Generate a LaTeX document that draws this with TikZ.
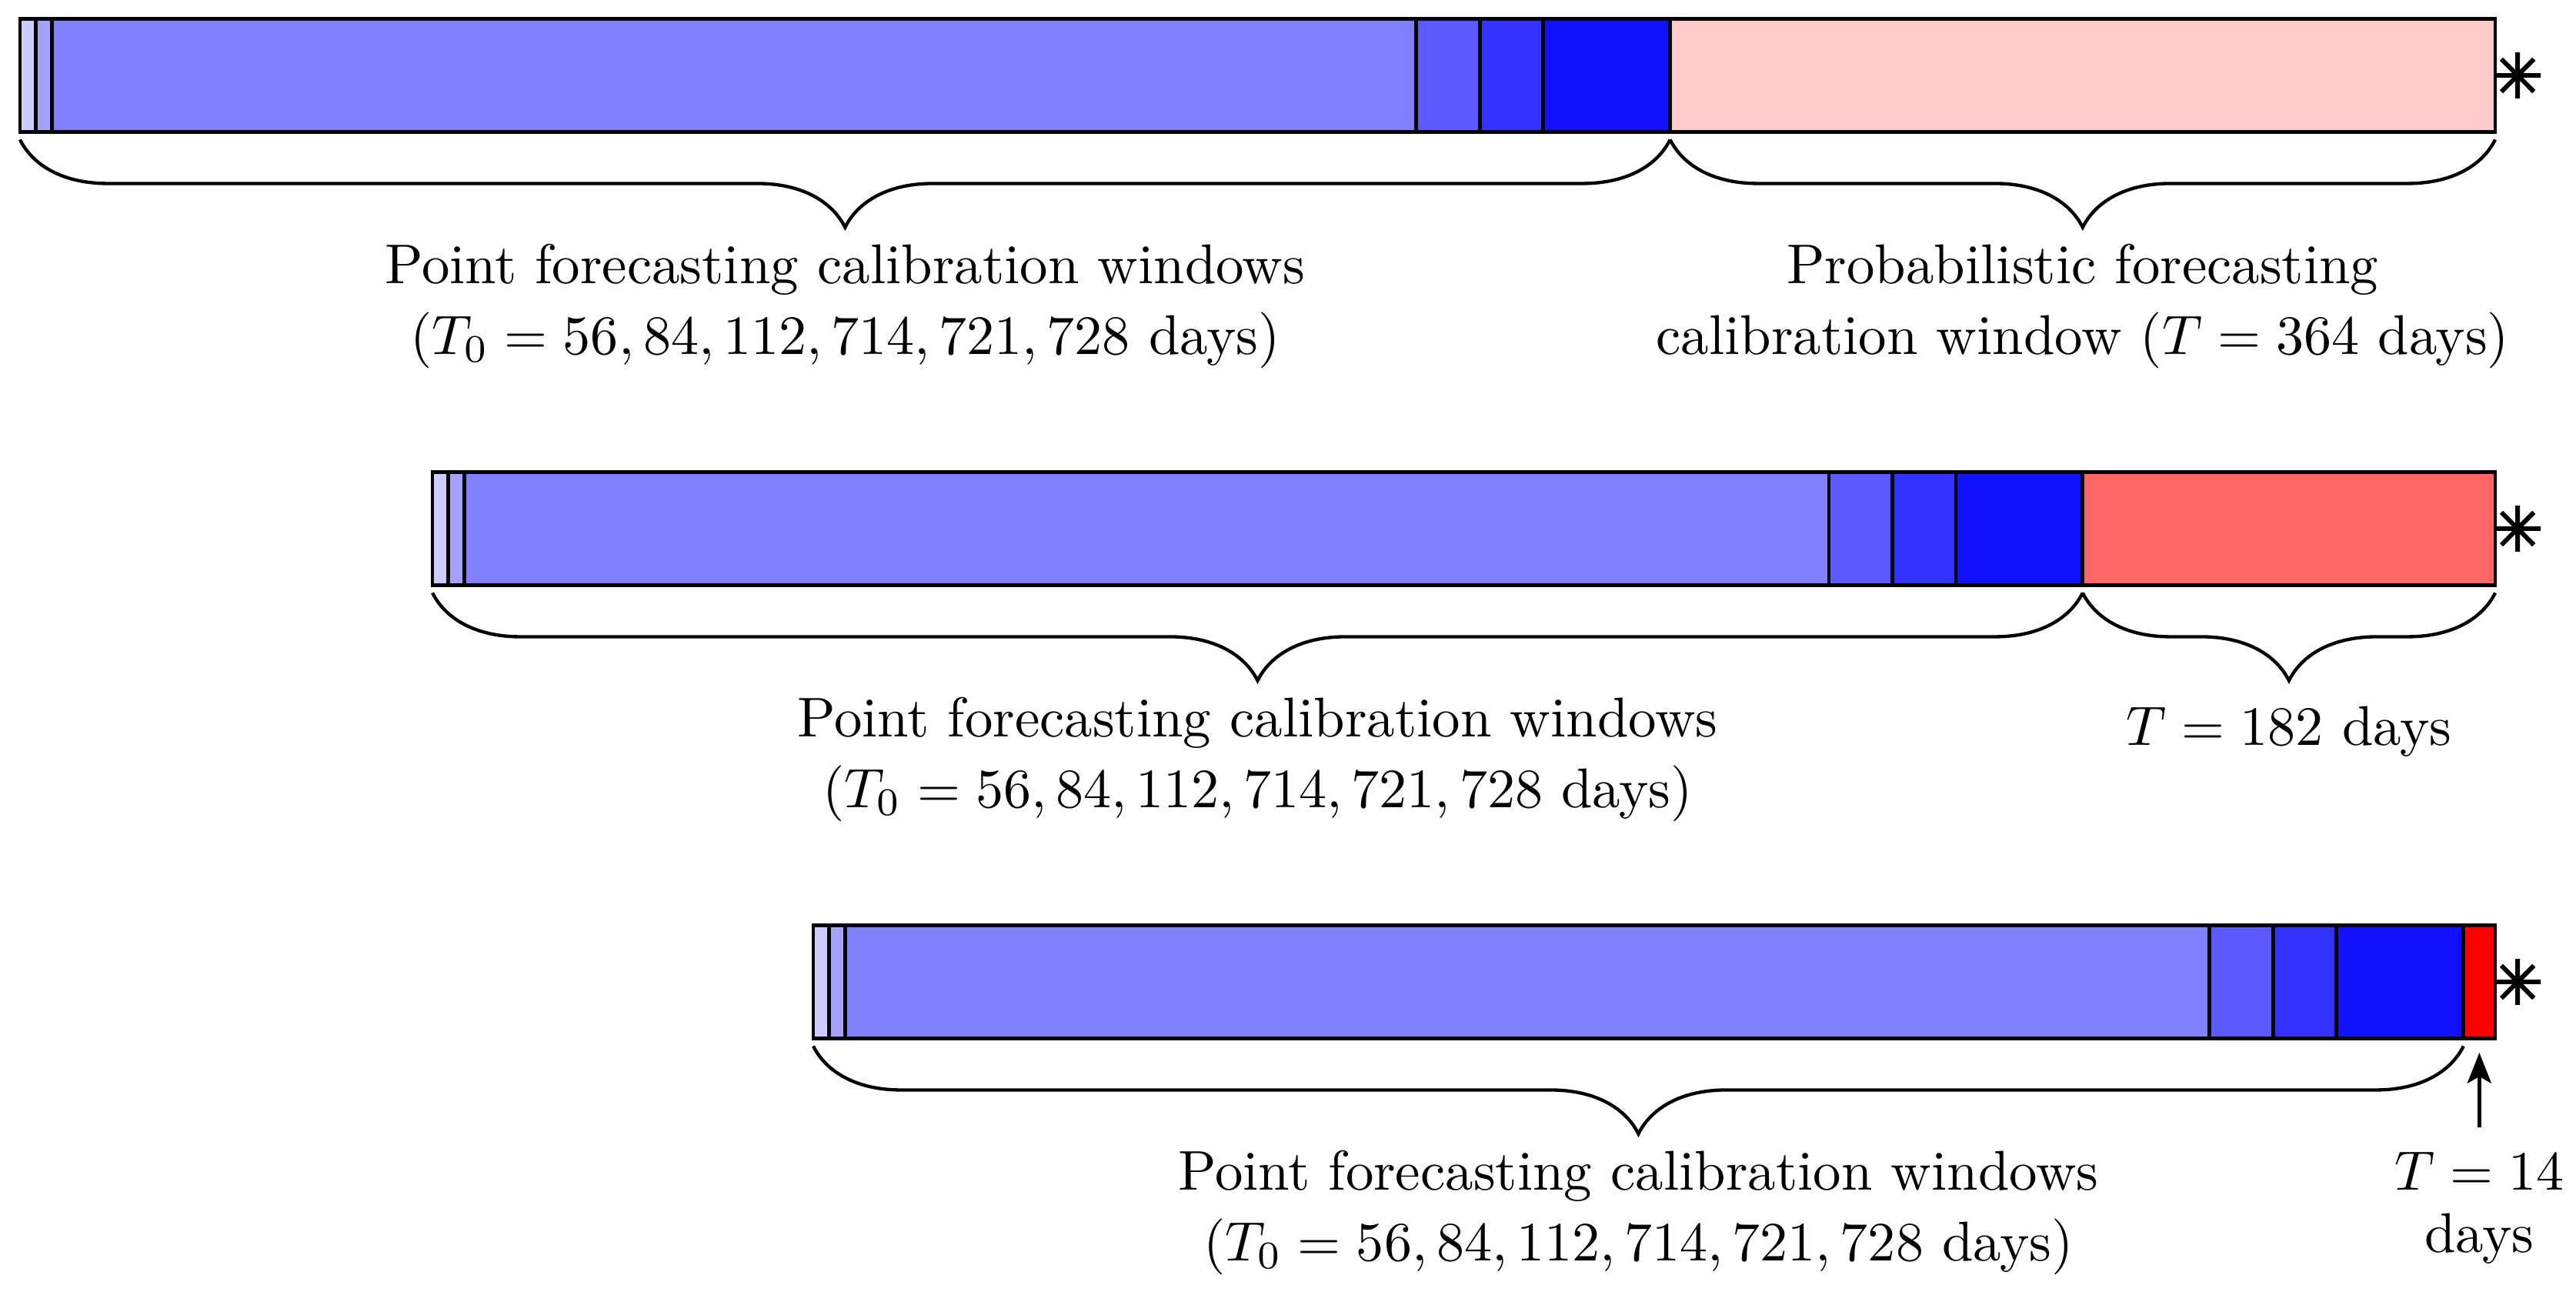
\documentclass[tikz,border=0pt]{standalone}
\usepackage{fontspec}
\newfontface\symfont[FakeBold=2.5]{DejaVu Sans}
\usetikzlibrary{decorations.pathreplacing,arrows.meta}
\definecolor{wa}{RGB}{204,204,255}
\definecolor{wb}{RGB}{163,163,255}
\definecolor{wc}{RGB}{128,128,255}
\definecolor{wd}{RGB}{90,90,255}
\definecolor{we}{RGB}{51,51,255}
\definecolor{wf}{RGB}{16,16,255}
\definecolor{pa}{RGB}{255,204,204}
\definecolor{pb}{RGB}{255,102,102}
\definecolor{pc}{RGB}{255,0,0}
\begin{document}
\begin{tikzpicture}[x=0.40861pt, y=-0.1387pt,
  seg/.style={draw=black, line width=0.65pt},
  brc/.style={decorate, decoration={brace, amplitude=15.8pt}, line width=0.6pt},
  lbl/.style={align=center, font=\fontsize{10.1}{12.76}\selectfont, inner sep=0pt, anchor=base},
  astk/.style={font=\symfont\fontsize{11}{12}\selectfont, inner sep=0pt},
  arr/.style={-{Stealth[length=5.5pt,width=4.3pt,inset=1.2pt]}, line width=0.65pt}]
\def\Rend{1100.81}
\useasboundingbox (0,0) rectangle (1136.46,1679);
\foreach \T/\yo/\pcol/\nm in {364/0/pa/a, 182/589/pb/b, 14/1178/pc/c}{
  \pgfmathsetmacro\cbP{\Rend-\T}
  \pgfmathsetmacro\cbTop{\yo+24.5}
  \pgfmathsetmacro\cbBot{\yo+171.5}
  \pgfmathsetmacro\cbMid{\yo+98}
  \pgfmathsetmacro\cbBr{\yo+181.5}
  \draw[seg, fill=wa] ({\cbP-728},\cbTop) rectangle ({\cbP-721},\cbBot);
  \draw[seg, fill=wb] ({\cbP-721},\cbTop) rectangle ({\cbP-714},\cbBot);
  \draw[seg, fill=wc] ({\cbP-714},\cbTop) rectangle ({\cbP-112},\cbBot);
  \draw[seg, fill=wd] ({\cbP-112},\cbTop) rectangle ({\cbP-84},\cbBot);
  \draw[seg, fill=we] ({\cbP-84},\cbTop) rectangle ({\cbP-56},\cbBot);
  \draw[seg, fill=wf] ({\cbP-56},\cbTop) rectangle (\cbP,\cbBot);
  \draw[seg, fill=\pcol] (\cbP,\cbTop) rectangle (\Rend,\cbBot);
  \coordinate (\nm-s) at ({\cbP-728},\cbBr);
  \coordinate (\nm-p) at (\cbP,\cbBr);
  \coordinate (\nm-e) at (\Rend,\cbBr);
  \draw[brc] (\nm-p) -- (\nm-s);
  \node[astk] (\nm-ast) at (1110.7,\cbMid) {✳};
  \node[lbl] (\nm-pt) at ({\cbP-364},{\yo+460}) {Point forecasting calibration windows\\($T_0=56,84,112,714,721,728$ days)};
}
\draw[brc] (a-e) -- (a-p);
\draw[brc] (b-e) -- (b-p);
\node[lbl] (a-prob) at ({\Rend-182},460) {Probabilistic forecasting\\calibration window ($T=364$ days)};
\node[lbl] (b-prob) at ({\Rend-91},968) {$T=182$ days};
\node[lbl, font=\fontsize{10.1}{11.1}\selectfont] (c-prob) at ({\Rend-7},1627) {$T=14$\\days};
\coordinate (arrtail) at ({\Rend-7},1465);
\coordinate (arrhead) at ({\Rend-7},1368);
\draw[arr] (arrtail) -- (arrhead);
\end{tikzpicture}
\end{document}
